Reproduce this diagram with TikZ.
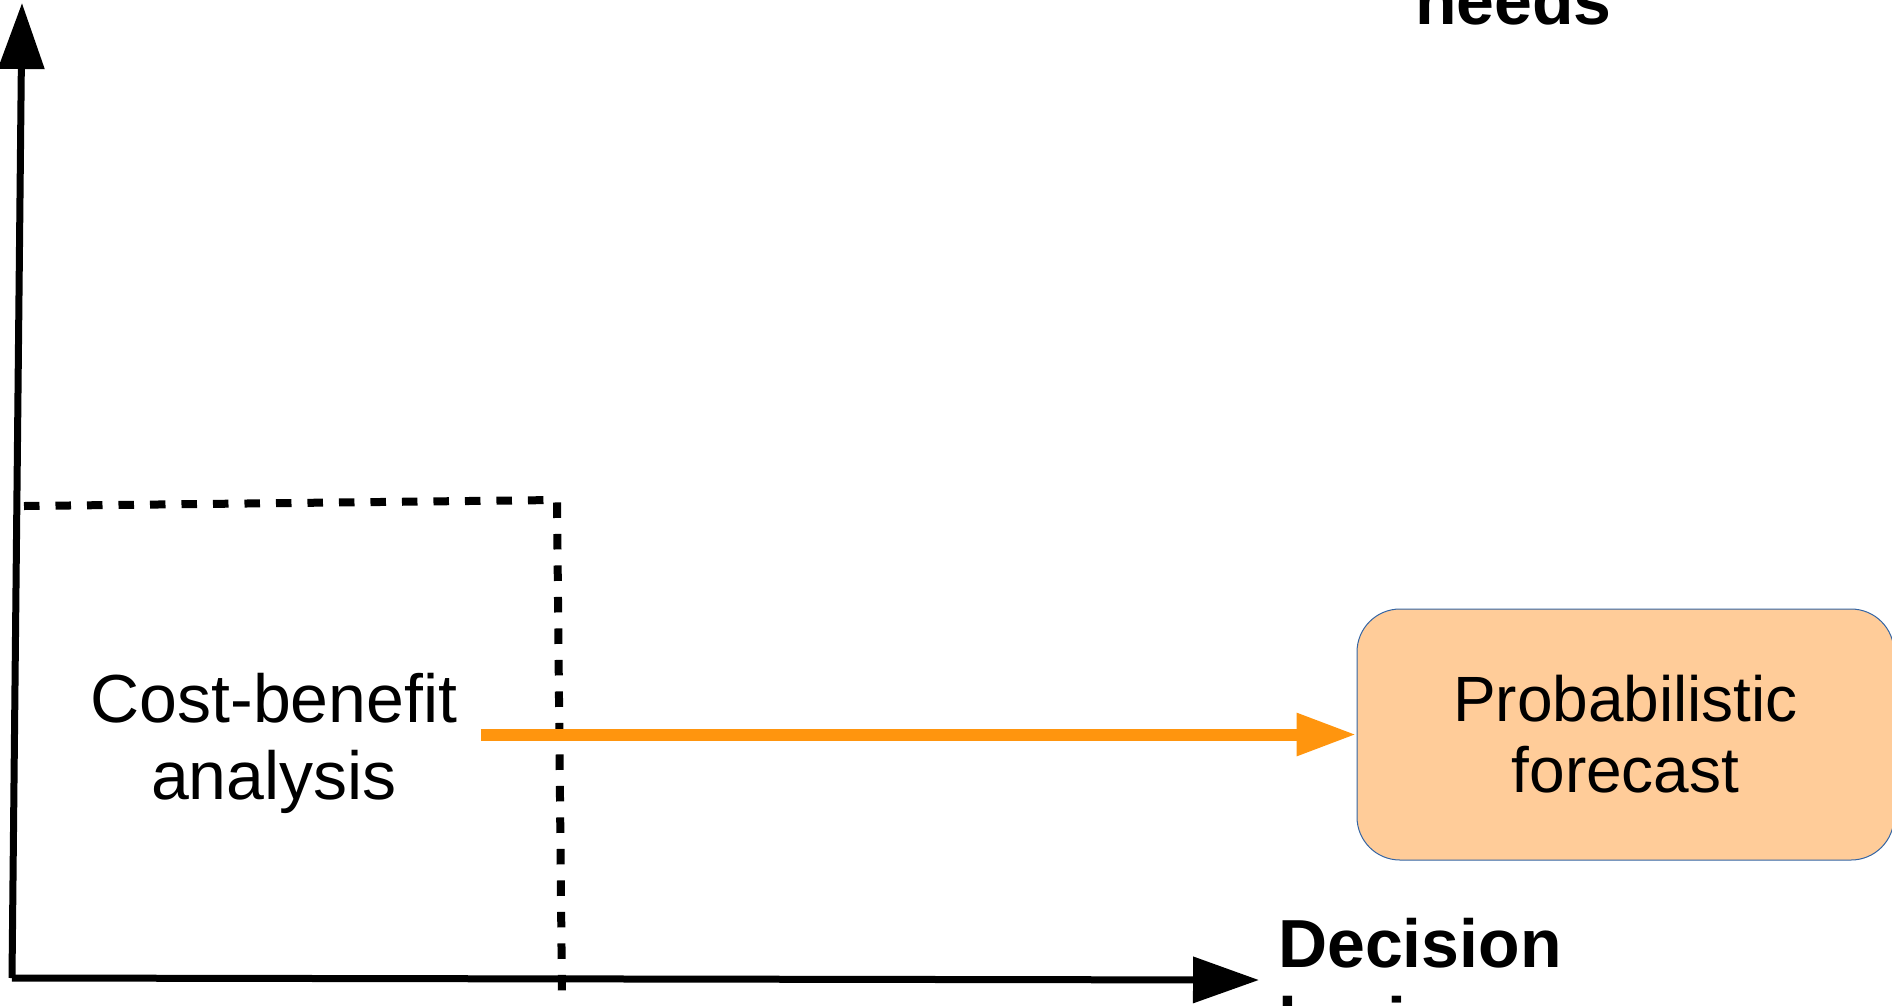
\documentclass[tikz,border=0pt]{standalone}
\usepackage{fontspec}
\setmainfont{Liberation Sans}
\usetikzlibrary{arrows.meta,positioning}
\definecolor{forecastfill}{RGB}{255,204,153}
\definecolor{forecastedge}{RGB}{52,101,164}
\definecolor{flowcolor}{RGB}{255,149,14}
\tikzstyle{axis}=[line width=7pt, -{Triangle[length=66pt,width=45pt]}]
\tikzstyle{limit}=[line width=8pt, dash pattern=on 15.5pt off 16pt]
\tikzstyle{flow}=[line width=12pt, flowcolor, -{Triangle[length=60pt,width=40pt]}]
\tikzstyle{forecast}=[draw=forecastedge, fill=forecastfill, line width=1pt, rounded corners=43pt, minimum width=537pt, minimum height=251pt, align=center, font=\fontsize{64}{71}\selectfont]
\tikzstyle{method}=[align=center, inner xsep=23pt, inner ysep=0pt, font=\fontsize{68}{77}\selectfont]
\tikzstyle{axis label}=[align=left, inner sep=0pt, font=\fontsize{68}{78}\selectfont\bfseries]

\begin{document}
\begin{tikzpicture}[x=1pt, y=-1pt]
        \useasboundingbox (0,0) rectangle (1892,1005);

        % Assi
        \coordinate (origin) at (12,978);
        \coordinate (ytip) at (22,3);
        \coordinate (xtip) at (1259,980);
        \draw[axis] (origin) -- (ytip);
        \draw[axis] (origin) -- (xtip);
        \node[axis label, anchor=base west] (ylabel) at (1415,24) {needs};
        \node[axis label, anchor=base west] (xlabel) at (1278,1045) {Decision\\horizon};

        % Area tratteggiata
        \coordinate (lim_start) at (24,506);
        \coordinate (lim_corner) at (557,500);
        \coordinate (lim_end) at (562,997);
        \draw[limit] (lim_start) -- (lim_corner) -- (lim_end);

        % Nodi
        \node[method] (cba) at (274,743) {Cost-benefit\\analysis};
        \node[forecast] (pf) at (1625.5,734.5) {Probabilistic\\forecast};

        % Freccia
        \draw[flow] (cba.east |- pf.west) -- (pf.west);
\end{tikzpicture}
\end{document}
